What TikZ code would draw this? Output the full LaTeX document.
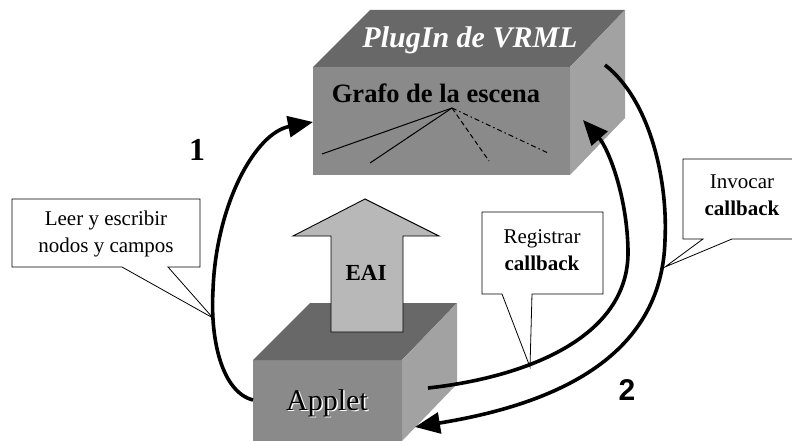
\documentclass[tikz,border=0pt]{standalone}
\usepackage{fontspec}
\setmainfont{Liberation Serif}
\newfontfamily\arialf{Liberation Sans}
\usetikzlibrary{arrows.meta}
\definecolor{frontgray}{HTML}{8A8A8A}
\definecolor{topgray}{HTML}{686868}
\definecolor{sidegray}{HTML}{A2A2A2}
\definecolor{eaigray}{HTML}{B8B8B8}
\tikzset{
  flow/.style={line width=3.6pt, -{Triangle[length=25pt,width=21pt]}},
  callout/.style={draw=black, line width=0.8pt, fill=white},
  calltext/.style={font=\fontsize{21}{27}\selectfont, align=center, inner sep=0pt},
  graphline/.style={line width=1pt, black},
}
\begin{document}
\begin{tikzpicture}[x=1pt,y=-1pt]
\useasboundingbox (0,0) rectangle (792,441);
\clip (0,0) rectangle (792,441);
% ---- top box: PlugIn de VRML
\fill[frontgray] (313,67) rectangle (570,175);
\fill[topgray] (313,67) -- (370,10) -- (625,10) -- (570,67) -- cycle;
\fill[sidegray] (570,67) -- (625,10) -- (625,118) -- (570,175) -- cycle;
\node[text=white, font=\fontsize{30}{31}\selectfont\bfseries\itshape, inner sep=0pt] (plugin) at (470,40) {PlugIn de VRML};
\node[font=\fontsize{26.5}{28}\selectfont\bfseries, inner sep=0pt] (grafo) at (436,93) {Grafo de la escena};
\coordinate (apex) at (452,108);
\coordinate (g1) at (322,154);
\coordinate (g2) at (370,163);
\coordinate (g3) at (489,161);
\coordinate (g4) at (548,153);
\draw[graphline] (apex) -- (g1);
\draw[graphline] (apex) -- (g2);
\draw[graphline, dash pattern=on 5pt off 3pt] (apex) -- (g3);
\draw[graphline, dash pattern=on 5pt off 3pt on 1.5pt off 3pt] (apex) -- (g4);
% ---- Applet box
\fill[frontgray] (253,360) rectangle (402,445);
\fill[topgray] (253,360) -- (310,303) -- (457,303) -- (402,360) -- cycle;
\fill[sidegray] (402,360) -- (457,303) -- (457,384) -- (402,441) -- cycle;
\node[text=white, font=\fontsize{30}{32}\selectfont, inner sep=0pt] at (328.5,404.5) {Applet};
\node[font=\fontsize{30}{32}\selectfont, inner sep=0pt] (applet) at (327,403) {Applet};
% ---- EAI arrow
\filldraw[fill=eaigray, draw=black, line width=0.9pt] (365,199) -- (439,236) -- (403,236) -- (403,332) -- (331,332) -- (331,236) -- (293,236) -- cycle;
\node[font=\fontsize{23}{24}\selectfont\bfseries, inner sep=0pt] (eai) at (366,273) {EAI};
% ---- callouts
\draw[callout] (12,199) -- (200,199) -- (200,267) -- (168,267) -- (213,318) -- (122,267) -- (12,267) -- cycle;
\node[calltext] (leer) at (106,234) {Leer y escribir\\nodos y campos};
\draw[callout] (482,212) -- (603,212) -- (603,294) -- (532,294) -- (530,367) -- (502,294) -- (482,294) -- cycle;
\node[calltext] (registrar) at (542,250) {Registrar\\\textbf{callback}};
\draw[callout] (683,159) -- (800,159) -- (800,239) -- (732,239) -- (665,267) -- (703,239) -- (683,239) -- cycle;
\node[calltext] (invocar) at (742,195) {Invocar\\\textbf{callback}};
% ---- flow arrows
\coordinate (a1s) at (253,400);
\coordinate (a1m) at (213,290);
\coordinate (a1e) at (313,122);
\draw[flow] (a1s) .. controls (222,392) and (210,340) .. (a1m) .. controls (216,205) and (255,133) .. (a1e);
\coordinate (a2s) at (428,388);
\coordinate (a2m) at (628,250);
\coordinate (a2e) at (583,120);
\draw[flow] (a2s) .. controls (520,378) and (630,340) .. (a2m) .. controls (627,195) and (608,148) .. (a2e);
\coordinate (a3s) at (605,65);
\coordinate (a3m) at (665,240);
\coordinate (a3e) at (415,427);
\draw[flow] (a3s) .. controls (650,100) and (668,180) .. (a3m) .. controls (662,360) and (550,405) .. (a3e);
% ---- numbers
\node[font=\fontsize{32}{34}\selectfont\bfseries, inner sep=0pt] (n1) at (197,150) {1};
\node[font=\fontsize{30}{32}\selectfont\arialf\bfseries, inner sep=0pt] (n2) at (627,390) {2};
\end{tikzpicture}
\end{document}
